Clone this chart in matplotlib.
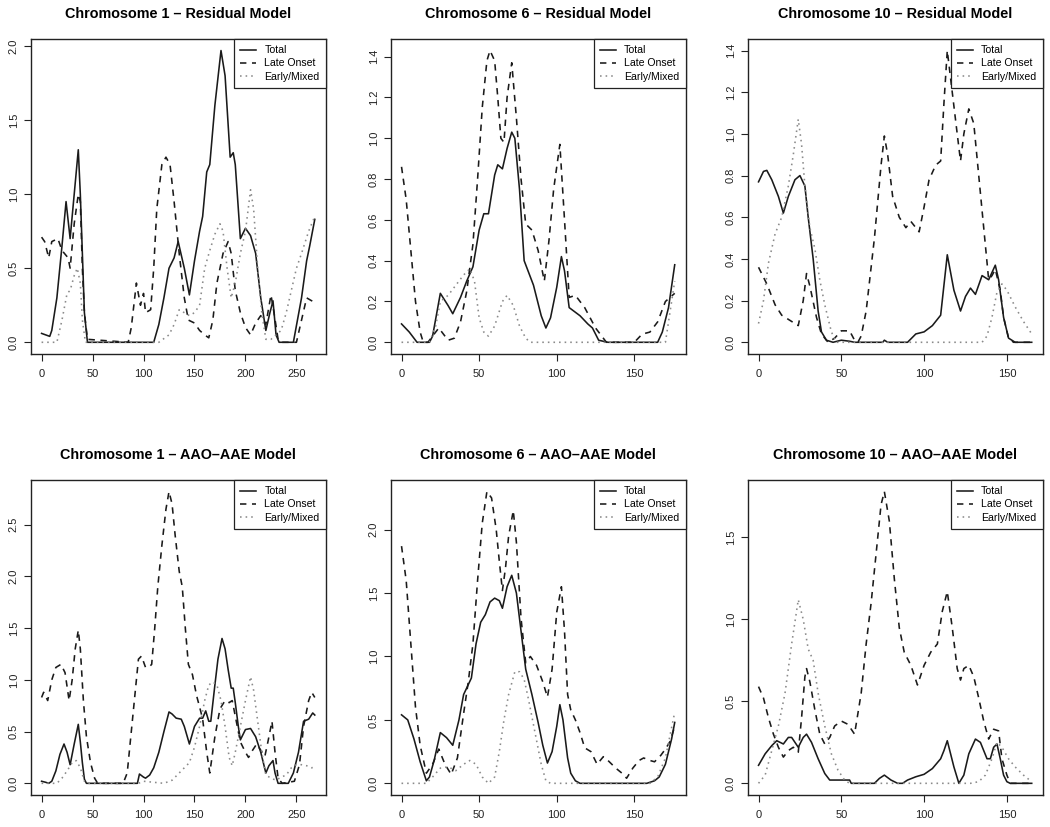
import matplotlib
matplotlib.use("Agg")
import matplotlib.pyplot as plt

plt.rcParams['font.family'] = ['Liberation Sans', 'DejaVu Sans']

# ---- Chromosome 1, residual model ----
c1r_total_x = [0, 4, 8, 10, 15, 20, 24, 28, 32, 36, 38, 40, 42, 45, 110, 115, 120, 125, 130, 134, 140, 145, 150, 155, 158,
               162, 165, 170, 176, 180, 185, 188, 190, 195, 200, 205, 210, 215, 220, 224, 227, 230, 233, 247, 255, 260, 263, 268]
c1r_total_y = [0.06, 0.05, 0.04, 0.08, 0.3, 0.65, 0.95, 0.70, 1.0, 1.3, 1.0, 0.6, 0.2, 0.0, 0.0, 0.12, 0.3, 0.5, 0.57, 0.68,
               0.5, 0.32, 0.55, 0.75, 0.85, 1.15, 1.2, 1.6, 1.97, 1.8, 1.25, 1.28, 1.2, 0.7, 0.77, 0.72, 0.6, 0.3, 0.08, 0.2,
               0.28, 0.05, 0.0, 0.0, 0.3, 0.55, 0.65, 0.83]
c1r_late_x = [0, 3, 7, 10, 16, 20, 26, 28, 32, 36, 38, 40, 42, 45, 85, 88, 93, 97, 100, 102, 107, 110, 113, 118, 122, 126,
              130, 135, 140, 144, 150, 155, 160, 164, 168, 172, 178, 183, 186, 190, 195, 200, 205, 210, 215, 220, 225, 228,
              232, 235, 250, 255, 260, 265, 268]
c1r_late_y = [0.71, 0.68, 0.57, 0.68, 0.70, 0.62, 0.57, 0.5, 0.8, 1.0, 0.95, 0.5, 0.2, 0.02, 0.0, 0.1, 0.4, 0.25, 0.33, 0.2,
              0.22, 0.5, 0.9, 1.2, 1.25, 1.2, 0.95, 0.6, 0.3, 0.15, 0.13, 0.08, 0.05, 0.03, 0.15, 0.4, 0.6, 0.68, 0.6,
              0.35, 0.2, 0.1, 0.05, 0.13, 0.18, 0.12, 0.32, 0.2, 0.02, 0.0, 0.0, 0.15, 0.3, 0.28, 0.25]
c1r_early_x = [0, 15, 20, 25, 28, 32, 35, 38, 40, 43, 115, 125, 130, 135, 140, 145, 150, 155, 160, 165, 170, 175, 178, 182,
               186, 190, 195, 200, 205, 208, 212, 216, 220, 225, 230, 235, 240, 245, 250, 255, 262, 268]
c1r_early_y = [0.0, 0.0, 0.15, 0.33, 0.35, 0.45, 0.5, 0.4, 0.15, 0.0, 0.0, 0.05, 0.12, 0.22, 0.2, 0.18, 0.2, 0.25, 0.5, 0.62,
               0.73, 0.8, 0.75, 0.5, 0.3, 0.4, 0.6, 0.75, 1.03, 0.9, 0.5, 0.2, 0.02, 0.02, 0.05, 0.08, 0.2, 0.35, 0.5, 0.6,
               0.75, 0.85]

# ---- Chromosome 6, residual model ----
c6r_total_x = [0, 5, 10, 18, 20, 25, 30, 33, 38, 42, 46, 50, 53, 56, 60, 62, 65, 68, 71, 73, 76, 79, 85, 90, 93, 96, 100,
               103, 105, 108, 115, 120, 123, 127, 133, 165, 168, 172, 176]
c6r_total_y = [0.09, 0.05, 0.0, 0.0, 0.03, 0.24, 0.18, 0.14, 0.22, 0.3, 0.37, 0.55, 0.63, 0.63, 0.82, 0.87, 0.85, 0.95, 1.03,
               1.0, 0.75, 0.4, 0.28, 0.13, 0.07, 0.12, 0.27, 0.42, 0.35, 0.17, 0.13, 0.09, 0.07, 0.01, 0.0, 0.0, 0.05, 0.17,
               0.38]
c6r_late_x = [0, 3, 6, 9, 12, 14, 17, 20, 24, 27, 30, 34, 38, 42, 46, 49, 52, 55, 57, 60, 62, 64, 66, 68, 71, 74, 77, 80, 84,
              88, 92, 95, 98, 102, 105, 108, 112, 118, 125, 132, 150, 155, 160, 165, 170, 176]
c6r_late_y = [0.86, 0.7, 0.45, 0.2, 0.05, 0.0, 0.0, 0.03, 0.07, 0.04, 0.01, 0.02, 0.1, 0.25, 0.48, 0.8, 1.15, 1.38, 1.43, 1.38,
              1.2, 1.0, 0.98, 1.2, 1.37, 1.1, 0.8, 0.58, 0.55, 0.45, 0.3, 0.5, 0.75, 0.97, 0.6, 0.22, 0.23, 0.17, 0.07, 0.0,
              0.0, 0.04, 0.05, 0.1, 0.2, 0.24]
c6r_early_x = [0, 18, 22, 25, 30, 35, 40, 44, 47, 50, 53, 56, 60, 65, 68, 72, 76, 80, 83, 170, 173, 176]
c6r_early_y = [0.0, 0.0, 0.08, 0.2, 0.23, 0.28, 0.33, 0.36, 0.3, 0.12, 0.05, 0.03, 0.08, 0.2, 0.23, 0.18, 0.08, 0.02, 0.0, 0.0,
               0.15, 0.3]

# ---- Chromosome 10, residual model ----
c10r_total_x = [0, 3, 5, 8, 12, 15, 18, 22, 25, 28, 30, 33, 36, 38, 41, 45, 50, 55, 58, 75, 76, 78, 90, 95, 100, 105, 110,
                114, 118, 122, 125, 128, 131, 135, 139, 143, 145, 148, 151, 155, 165]
c10r_total_y = [0.77, 0.82, 0.825, 0.78, 0.7, 0.62, 0.7, 0.78, 0.80, 0.75, 0.6, 0.4, 0.15, 0.05, 0.01, 0.0, 0.01, 0.005, 0.0,
                0.0, 0.01, 0.0, 0.0, 0.04, 0.05, 0.08, 0.13, 0.42, 0.25, 0.15, 0.22, 0.26, 0.23, 0.32, 0.3, 0.37, 0.3, 0.12,
                0.02, 0.0, 0.0]
c10r_late_x = [0, 5, 10, 14, 18, 22, 24, 27, 29, 31, 35, 38, 42, 46, 50, 55, 58, 60, 62, 65, 70, 74, 76, 78, 81, 85, 89, 92,
               95, 97, 100, 103, 107, 110, 112, 114, 117, 120, 122, 124, 127, 130, 133, 136, 139, 141, 143, 146, 148, 151,
               154, 165]
c10r_late_y = [0.36, 0.28, 0.18, 0.13, 0.11, 0.09, 0.08, 0.2, 0.33, 0.27, 0.12, 0.04, 0.0, 0.02, 0.055, 0.055, 0.01, 0.0, 0.03,
               0.15, 0.5, 0.85, 0.99, 0.9, 0.7, 0.6, 0.55, 0.58, 0.55, 0.53, 0.65, 0.78, 0.85, 0.87, 1.15, 1.40, 1.2, 1.0,
               0.87, 1.0, 1.12, 1.05, 0.8, 0.55, 0.3, 0.32, 0.35, 0.25, 0.12, 0.02, 0.0, 0.0]
c10r_early_x = [0, 3, 6, 10, 14, 18, 21, 24, 26, 28, 31, 34, 37, 40, 44, 47, 135, 138, 141, 144, 147, 150, 155, 160, 165]
c10r_early_y = [0.09, 0.2, 0.38, 0.52, 0.6, 0.75, 0.9, 1.07, 0.95, 0.75, 0.55, 0.45, 0.3, 0.18, 0.05, 0.0, 0.0, 0.03, 0.12,
                0.24, 0.28, 0.25, 0.17, 0.1, 0.04]

# ---- Chromosome 1, AAO-AAE model ----
c1a_total_x = [0, 4, 7, 10, 14, 18, 22, 25, 28, 32, 36, 38, 40, 42, 44, 94, 96, 100, 102, 106, 110, 115, 120, 125, 128, 132,
               137, 140, 145, 150, 155, 158, 161, 164, 166, 170, 173, 177, 180, 183, 186, 188, 190, 193, 195, 200, 205, 210,
               215, 220, 223, 227, 229, 232, 242, 247, 252, 257, 262, 266, 268]
c1a_total_y = [0.02, 0.01, 0.0, 0.02, 0.12, 0.28, 0.38, 0.3, 0.18, 0.38, 0.57, 0.4, 0.2, 0.04, 0.0, 0.0, 0.09, 0.06, 0.05, 0.08,
               0.15, 0.3, 0.5, 0.69, 0.67, 0.63, 0.62, 0.55, 0.38, 0.55, 0.63, 0.63, 0.7, 0.6, 0.6, 0.95, 1.2, 1.4, 1.3, 1.1,
               0.92, 0.92, 0.78, 0.55, 0.42, 0.52, 0.53, 0.45, 0.3, 0.1, 0.17, 0.22, 0.1, 0.0, 0.0, 0.1, 0.3, 0.6, 0.62, 0.68,
               0.66]
c1a_late_x = [0, 2, 6, 10, 14, 19, 23, 27, 30, 33, 36, 38, 41, 44, 48, 52, 55, 80, 84, 88, 92, 95, 98, 102, 106, 108, 111,
              114, 118, 122, 125, 128, 131, 135, 138, 141, 144, 148, 152, 156, 158, 162, 165, 170, 175, 180, 184, 187, 190,
              195, 200, 203, 207, 211, 215, 219, 222, 226, 229, 232, 236, 248, 253, 257, 262, 265, 268]
c1a_late_y = [0.83, 0.88, 0.8, 1.0, 1.12, 1.15, 1.07, 0.8, 1.0, 1.3, 1.48, 1.3, 0.8, 0.45, 0.2, 0.05, 0.0, 0.0, 0.1, 0.5, 0.9,
              1.2, 1.23, 1.12, 1.13, 1.15, 1.5, 1.9, 2.3, 2.65, 2.82, 2.7, 2.4, 2.05, 1.9, 1.5, 1.15, 1.05, 0.85, 0.7, 0.62,
              0.3, 0.1, 0.45, 0.72, 0.8, 0.78, 0.8, 0.65, 0.4, 0.3, 0.25, 0.32, 0.38, 0.32, 0.26, 0.4, 0.6, 0.3, 0.05, 0.0,
              0.02, 0.18, 0.55, 0.8, 0.88, 0.83]
c1a_early_x = [0, 15, 20, 25, 30, 34, 38, 42, 45, 95, 100, 110, 120, 128, 135, 140, 145, 150, 155, 160, 164, 168, 172, 176,
               180, 184, 187, 190, 195, 200, 205, 208, 212, 216, 220, 225, 230, 235, 240, 245, 250, 255, 260, 265, 268]
c1a_early_y = [0.0, 0.0, 0.05, 0.12, 0.2, 0.22, 0.15, 0.02, 0.0, 0.0, 0.02, 0.01, 0.0, 0.03, 0.1, 0.15, 0.2, 0.35, 0.55, 0.8,
               0.95, 0.98, 0.95, 0.8, 0.55, 0.25, 0.17, 0.3, 0.55, 0.8, 1.03, 0.9, 0.6, 0.3, 0.08, 0.05, 0.03, 0.06, 0.08,
               0.15, 0.18, 0.18, 0.17, 0.15, 0.16]

# ---- Chromosome 6, AAO-AAE model ----
c6a_total_x = [0, 4, 8, 12, 16, 18, 21, 25, 29, 33, 37, 40, 45, 48, 51, 54, 57, 60, 63, 65, 68, 71, 74, 77, 80, 84, 88, 91,
               94, 97, 100, 102, 104, 107, 109, 112, 115, 158, 163, 166, 170, 174, 176]
c6a_total_y = [0.54, 0.5, 0.35, 0.17, 0.02, 0.05, 0.18, 0.4, 0.36, 0.3, 0.5, 0.7, 0.83, 1.1, 1.27, 1.33, 1.43, 1.46, 1.44,
               1.38, 1.55, 1.64, 1.5, 1.2, 0.9, 0.7, 0.48, 0.3, 0.16, 0.25, 0.45, 0.62, 0.5, 0.2, 0.08, 0.02, 0.0, 0.0, 0.02,
               0.05, 0.15, 0.35, 0.48]
c6a_late_x = [0, 3, 6, 9, 12, 16, 20, 24, 28, 32, 36, 40, 43, 46, 49, 52, 55, 58, 61, 63, 65, 67, 69, 72, 74, 77, 80, 83, 87,
              91, 94, 97, 100, 103, 105, 107, 109, 112, 115, 118, 122, 126, 130, 133, 138, 142, 145, 149, 153, 156, 160, 163,
              167, 170, 173, 176]
c6a_late_y = [1.87, 1.6, 1.1, 0.6, 0.3, 0.08, 0.15, 0.27, 0.15, 0.07, 0.2, 0.55, 0.8, 1.1, 1.6, 2.05, 2.30, 2.25, 2.0, 1.75,
              1.52, 1.7, 1.95, 2.15, 1.9, 1.3, 0.95, 1.0, 0.93, 0.8, 0.68, 0.9, 1.35, 1.55, 1.2, 0.7, 0.58, 0.5, 0.4, 0.28,
              0.25, 0.15, 0.21, 0.18, 0.12, 0.08, 0.04, 0.12, 0.18, 0.2, 0.18, 0.17, 0.22, 0.27, 0.33, 0.45]
c6a_early_x = [0, 16, 20, 25, 30, 35, 40, 44, 48, 52, 56, 60, 63, 66, 69, 73, 76, 79, 82, 86, 90, 93, 96, 160, 165, 170, 173,
               176]
c6a_early_y = [0.0, 0.0, 0.05, 0.12, 0.13, 0.1, 0.15, 0.18, 0.15, 0.05, 0.0, 0.05, 0.25, 0.5, 0.7, 0.88, 0.88, 0.82, 0.65,
               0.4, 0.15, 0.02, 0.0, 0.0, 0.05, 0.2, 0.38, 0.56]

# ---- Chromosome 10, AAO-AAE model ----
c10a_total_x = [0, 4, 8, 11, 13, 15, 18, 20, 24, 27, 29, 32, 36, 40, 43, 50, 55, 56, 70, 73, 76, 80, 84, 87, 90, 95, 100, 105,
                110, 112, 114, 116, 118, 121, 124, 127, 131, 134, 138, 140, 142, 144, 146, 148, 150, 152, 165]
c10a_total_y = [0.11, 0.18, 0.23, 0.26, 0.25, 0.24, 0.28, 0.28, 0.22, 0.28, 0.3, 0.25, 0.15, 0.06, 0.02, 0.02, 0.02, 0.0, 0.0,
                0.03, 0.05, 0.02, 0.0, 0.0, 0.02, 0.04, 0.055, 0.09, 0.15, 0.2, 0.26, 0.18, 0.1, 0.0, 0.05, 0.18, 0.27, 0.25,
                0.15, 0.15, 0.22, 0.24, 0.15, 0.05, 0.01, 0.0, 0.0]
c10a_late_x = [0, 3, 6, 9, 12, 15, 18, 21, 24, 26, 28, 29, 31, 34, 37, 40, 43, 46, 50, 54, 58, 62, 65, 68, 71, 74, 76, 79, 82,
               85, 88, 92, 96, 100, 104, 108, 111, 114, 117, 120, 122, 124, 127, 130, 133, 136, 139, 142, 145, 147, 150,
               152, 165]
c10a_late_y = [0.59, 0.52, 0.4, 0.3, 0.22, 0.16, 0.2, 0.22, 0.19, 0.4, 0.65, 0.7, 0.62, 0.45, 0.3, 0.24, 0.28, 0.35, 0.38, 0.36,
               0.3, 0.55, 0.85, 1.1, 1.4, 1.7, 1.78, 1.6, 1.25, 0.95, 0.8, 0.72, 0.6, 0.72, 0.8, 0.85, 1.05, 1.17, 0.95, 0.7,
               0.63, 0.7, 0.72, 0.65, 0.52, 0.38, 0.27, 0.33, 0.32, 0.15, 0.05, 0.0, 0.0]
c10a_early_x = [0, 4, 8, 12, 16, 20, 24, 27, 30, 33, 36, 40, 44, 48, 52, 55, 128, 133, 137, 141, 144, 147, 151, 155, 160, 165]
c10a_early_y = [0.0, 0.05, 0.2, 0.35, 0.55, 0.85, 1.12, 1.0, 0.82, 0.75, 0.55, 0.35, 0.18, 0.08, 0.02, 0.0, 0.0, 0.01, 0.05,
                0.15, 0.25, 0.22, 0.15, 0.1, 0.05, 0.01]

titles = ["Chromosome 1 \u2013 Residual Model", "Chromosome 6 \u2013 Residual Model", "Chromosome 10 \u2013 Residual Model",
          "Chromosome 1 \u2013 AAO\u2013AAE Model", "Chromosome 6 \u2013 AAO\u2013AAE Model",
          "Chromosome 10 \u2013 AAO\u2013AAE Model"]
legend_labels = ["Total", "Late Onset", "Early/Mixed"]
xticks_list = [[0, 50, 100, 150, 200, 250], [0, 50, 100, 150], [0, 50, 100, 150]] * 2
yticks_list = [[0.0, 0.5, 1.0, 1.5, 2.0], [0.0, 0.2, 0.4, 0.6, 0.8, 1.0, 1.2, 1.4], [0.0, 0.2, 0.4, 0.6, 0.8, 1.0, 1.2, 1.4],
               [0.0, 0.5, 1.0, 1.5, 2.0, 2.5], [0.0, 0.5, 1.0, 1.5, 2.0], [0.0, 0.5, 1.0, 1.5]]

panels = [
    [(c1r_total_x, c1r_total_y), (c1r_late_x, c1r_late_y), (c1r_early_x, c1r_early_y)],
    [(c6r_total_x, c6r_total_y), (c6r_late_x, c6r_late_y), (c6r_early_x, c6r_early_y)],
    [(c10r_total_x, c10r_total_y), (c10r_late_x, c10r_late_y), (c10r_early_x, c10r_early_y)],
    [(c1a_total_x, c1a_total_y), (c1a_late_x, c1a_late_y), (c1a_early_x, c1a_early_y)],
    [(c6a_total_x, c6a_total_y), (c6a_late_x, c6a_late_y), (c6a_early_x, c6a_early_y)],
    [(c10a_total_x, c10a_total_y), (c10a_late_x, c10a_late_y), (c10a_early_x, c10a_early_y)],
]

styles = [
    dict(color='#1a1a1a', linestyle='-'),
    dict(color='#1a1a1a', dashes=(4, 3.5)),
    dict(color='#8a8a8a', dashes=(1, 2.5)),
]

fig = plt.figure(figsize=(10.5, 8.27), dpi=100)
lefts = [0.0292, 0.372, 0.712]
bottoms = [0.572, 0.0387]
w, h = 0.281, 0.381

for i, series in enumerate(panels):
    row, col = divmod(i, 3)
    ax = fig.add_axes([lefts[col], bottoms[row], w, h])
    for (xs, ys), st, lab in zip(series, styles, legend_labels):
        ax.plot(xs, ys, lw=1.15, label=lab, **st)
    # R-style 4% padding around data range
    xmax = max(max(s[0]) for s in series)
    ymax = max(max(s[1]) for s in series)
    ax.set_xlim(-0.04 * xmax, 1.04 * xmax)
    ax.set_ylim(-0.04 * ymax, 1.04 * ymax)
    ax.set_xticks(xticks_list[i])
    ax.set_yticks(yticks_list[i])
    ax.set_yticklabels([f"{v:.1f}" for v in yticks_list[i]])
    ax.tick_params(direction='out', length=5, width=0.8, labelsize=8, colors='#222222')
    ax.tick_params(axis='x', pad=6)
    ax.tick_params(axis='y', pad=3.5)
    plt.setp(ax.get_yticklabels(), rotation=90, va='center')
    for sp in ax.spines.values():
        sp.set_linewidth(1.0)
        sp.set_color('#222222')
    ax.set_title(titles[i], fontsize=10.4, fontweight='bold', pad=15)
    leg = ax.legend(loc='upper right', borderaxespad=0, fontsize=7.6, fancybox=False, framealpha=1,
                    edgecolor='#222222', handlelength=1.5, handletextpad=0.8, labelspacing=0.3,
                    borderpad=0.6)
    leg.get_frame().set_linewidth(0.9)

fig.savefig("out.png", dpi=100)
